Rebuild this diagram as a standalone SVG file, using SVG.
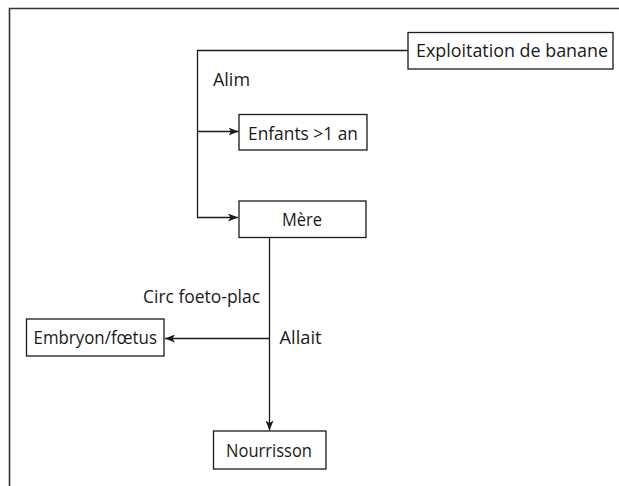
<svg xmlns="http://www.w3.org/2000/svg" width="619" height="486" viewBox="0 0 619 486">
  <style>
    .box { fill: #fff; stroke: #1a1a1a; stroke-width: 1.3; }
    .lbl { font-family: "Open Sans", "Noto Sans", sans-serif; font-size: 19px; fill: #1a1a1a; }
    .wire { fill: none; stroke: #1a1a1a; stroke-width: 1.3; }
  </style>
  <defs>
    <marker id="arrow" viewBox="0 0 10 8" refX="10" refY="4" markerWidth="10" markerHeight="8" markerUnits="userSpaceOnUse" orient="auto">
      <path d="M0,0 L10,4 L0,8 L2.5,4 Z" fill="#1a1a1a"/>
    </marker>
  </defs>
  <rect width="619" height="486" fill="#fff"/>
  <!-- frame: top and left rules only -->
  <path d="M9.5,486 V8.5 H619" fill="none" stroke="#333" stroke-width="1.6"/>

  <g id="connectors">
    <path class="wire" d="M408,50.5 H197.5 V217.5 H238" marker-end="url(#arrow)"/>
    <path class="wire" d="M197.5,131.5 H238.5" marker-end="url(#arrow)"/>
    <path class="wire" d="M269.5,238 V430.5" marker-end="url(#arrow)"/>
    <path class="wire" d="M269.5,338.5 H165" marker-end="url(#arrow)"/>
    <text class="lbl" x="213" y="86" textLength="37" lengthAdjust="spacingAndGlyphs">Alim</text>
    <text class="lbl" x="143" y="303" textLength="117" lengthAdjust="spacingAndGlyphs">Circ foeto-plac</text>
    <text class="lbl" x="279.5" y="344" textLength="42" lengthAdjust="spacingAndGlyphs">Allait</text>
  </g>

  <g id="exploitation">
    <rect class="box" x="408" y="32.5" width="205" height="36.5"/>
    <text class="lbl" x="416" y="57" textLength="192" lengthAdjust="spacingAndGlyphs">Exploitation de banane</text>
  </g>
  <g id="enfants">
    <rect class="box" x="239" y="114.5" width="128" height="35.5"/>
    <text class="lbl" x="248" y="139.5" textLength="110" lengthAdjust="spacingAndGlyphs">Enfants &gt;1 an</text>
  </g>
  <g id="mere">
    <rect class="box" x="239" y="201" width="127" height="36.5"/>
    <text class="lbl" x="282" y="226" textLength="40" lengthAdjust="spacingAndGlyphs">Mère</text>
  </g>
  <g id="embryon">
    <rect class="box" x="26.5" y="319" width="137.5" height="37"/>
    <text class="lbl" x="33.5" y="344" textLength="123.5" lengthAdjust="spacingAndGlyphs">Embryon/fœtus</text>
  </g>
  <g id="nourrisson">
    <rect class="box" x="213.5" y="431" width="112.5" height="38"/>
    <text class="lbl" x="226" y="456.5" textLength="86" lengthAdjust="spacingAndGlyphs">Nourrisson</text>
  </g>
</svg>
